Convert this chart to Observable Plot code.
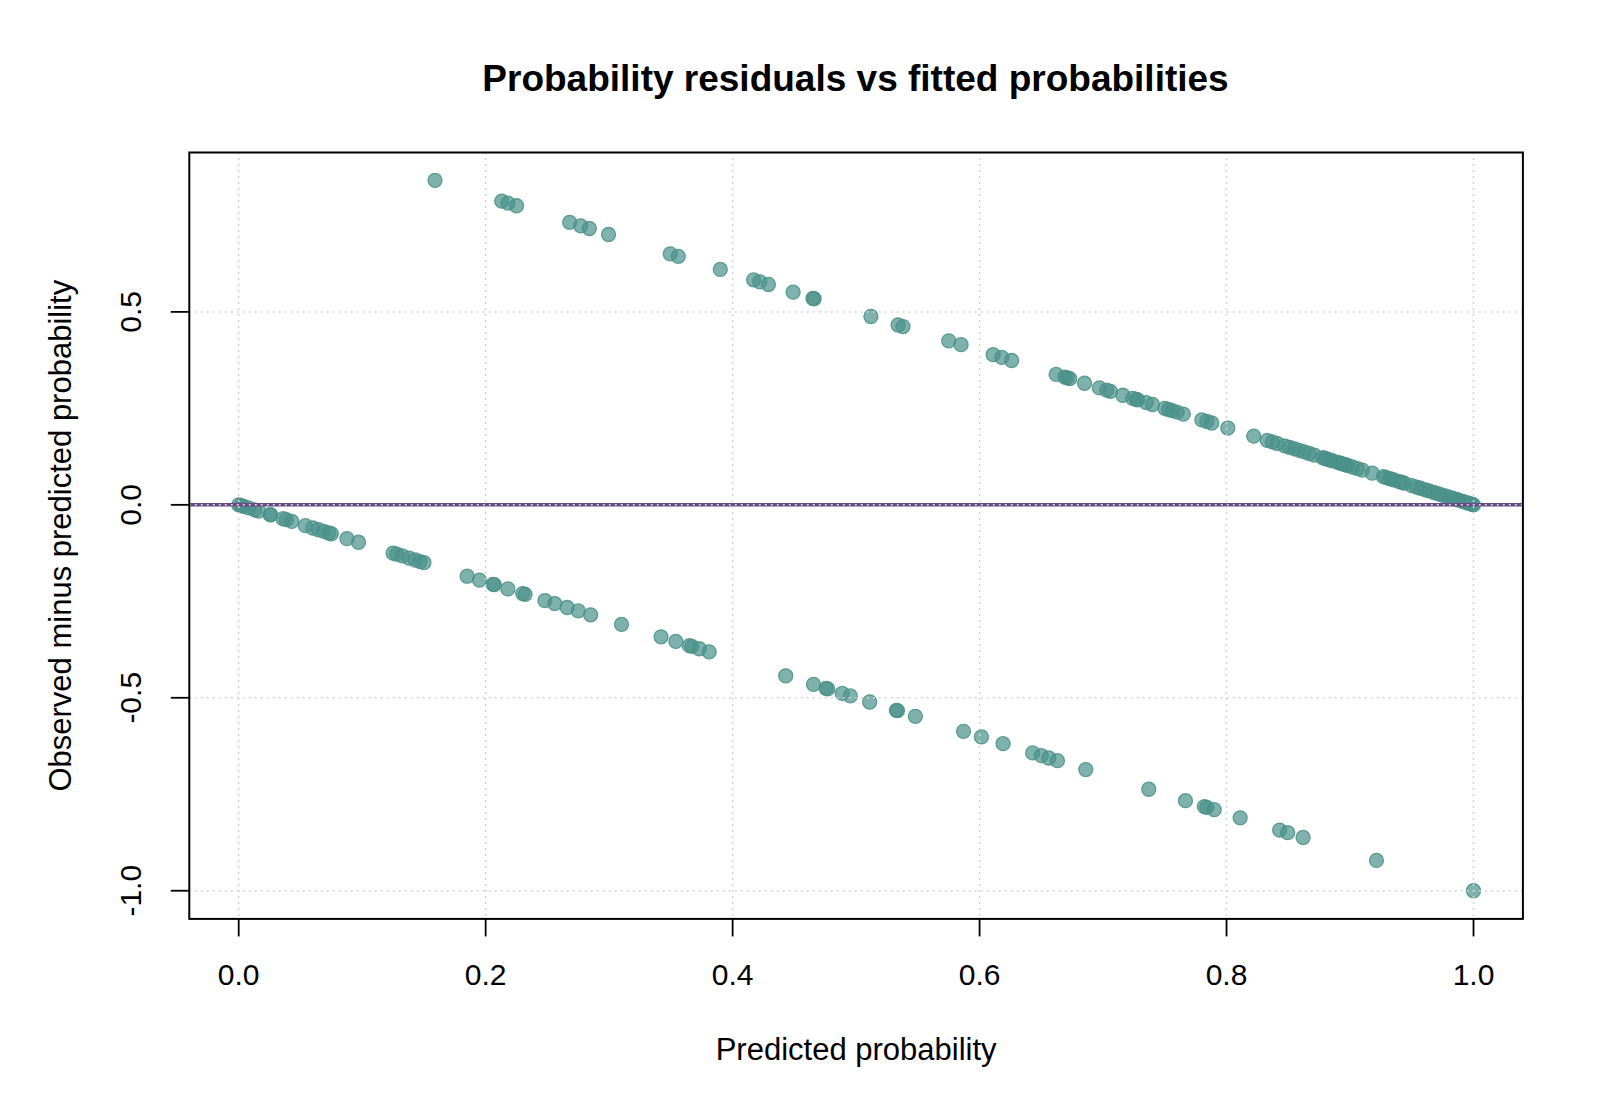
<!DOCTYPE html>
<html>
<head>
<meta charset="utf-8">
<script src="https://cdn.jsdelivr.net/npm/d3@7"></script>
<script src="https://cdn.jsdelivr.net/npm/@observablehq/plot@0.6"></script>
<style>
  body { margin: 0; background: #fff; font-family: "Liberation Sans", Arial, sans-serif; }
  #title {
    height: 120px; box-sizing: border-box;
    padding: 61px 78px 0 189px;
    text-align: center; font-weight: bold; font-size: 37px; line-height: 36px; color: #000;
  }
</style>
</head>
<body>
<div id="title">Probability residuals vs fitted probabilities</div>
<div id="chart"></div>
<script>
// Fitted probabilities for cases whose observed outcome was 1
const fittedObserved1 = [
  0.159, 0.213, 0.218, 0.225, 0.268, 0.277, 0.284, 0.2995, 0.3495, 0.356,
  0.390, 0.417, 0.422, 0.429, 0.449, 0.465, 0.466, 0.512, 0.534, 0.538,
  0.575, 0.585, 0.611, 0.618, 0.626, 0.662, 0.669, 0.671, 0.673, 0.685,
  0.697, 0.703, 0.706, 0.716, 0.724, 0.727, 0.728, 0.735, 0.740, 0.750,
  0.753, 0.756, 0.760, 0.765, 0.780, 0.784, 0.788, 0.801, 0.822, 0.833,
  0.837, 0.841, 0.847, 0.851, 0.855, 0.859, 0.863, 0.867, 0.871, 0.878,
  0.880, 0.882, 0.884, 0.886, 0.890, 0.892, 0.894, 0.896, 0.898, 0.902,
  0.906, 0.910, 0.918, 0.927, 0.929, 0.932, 0.934, 0.936, 0.940, 0.942,
  0.944, 0.950, 0.954, 0.957, 0.961, 0.964, 0.968, 0.971, 0.974, 0.977,
  0.980, 0.983, 0.986, 0.988, 0.991, 0.993, 0.995, 0.997, 0.999, 1.000
];

// Fitted probabilities for cases whose observed outcome was 0
const fittedObserved0 = [
  0.000, 0.002, 0.004, 0.008, 0.013, 0.016, 0.0255, 0.026, 0.036, 0.0385,
  0.043, 0.054, 0.060, 0.0646, 0.069, 0.073, 0.075, 0.0877, 0.097, 0.125,
  0.128, 0.1325, 0.138, 0.143, 0.147, 0.150, 0.185, 0.195, 0.206, 0.207,
  0.218, 0.230, 0.232, 0.248, 0.256, 0.266, 0.275, 0.285, 0.310, 0.342,
  0.354, 0.365, 0.367, 0.373, 0.381, 0.443, 0.4655, 0.4756, 0.477, 0.4887,
  0.4953, 0.511, 0.5326, 0.5335, 0.548, 0.587, 0.6015, 0.619, 0.643, 0.650,
  0.656, 0.663, 0.686, 0.737, 0.7667, 0.782, 0.784, 0.790, 0.811, 0.843,
  0.8495, 0.862, 0.9214, 1.000
];

const xTicks = [0, 0.2, 0.4, 0.6, 0.8, 1.0];
const yTicks = [-1.0, -0.5, 0.0, 0.5];
const xTitle = "Predicted probability";
const yTitle = "Observed minus predicted probability";

// residual = observed outcome minus fitted probability
const rows = [
  ...fittedObserved1.map(p => ({fitted: p, observed: 1})),
  ...fittedObserved0.map(p => ({fitted: p, observed: 0}))
].map(d => ({...d, residual: d.observed - d.fitted}));

const fmt = d => d.toFixed(1);
const gridStyle = {stroke: "#d3d3d3", strokeOpacity: 1, strokeWidth: 1.5, strokeDasharray: "2,4"};

const chart = Plot.plot({
  width: 1600,
  height: 988,
  marginLeft: 188.8,
  marginRight: 77.6,
  marginTop: 32,
  marginBottom: 189.6,
  style: {fontFamily: "'Liberation Sans', Arial, sans-serif", fontSize: "30px", color: "#000", background: "#fff"},
  x: {domain: [-0.04, 1.04]},
  y: {domain: [-1.073, 0.913]},
  marks: [
    Plot.dot(rows, {
      x: "fitted", y: "residual", r: 7,
      fill: "#4a918a", fillOpacity: 0.7,
      stroke: "#4a918a", strokeOpacity: 0.85, strokeWidth: 1.3
    }),
    Plot.ruleY([0], {stroke: "#674a85", strokeWidth: 3.5}),
    Plot.gridX(xTicks, gridStyle),
    Plot.gridY(yTicks, gridStyle),
    Plot.frame({stroke: "#000", strokeWidth: 2}),
    Plot.axisX(xTicks, {
      tickSize: 18, tickPadding: 27, tickFormat: fmt, strokeWidth: 1.8, label: null
    }),
    Plot.axisY(yTicks, {
      tickSize: 18, tickPadding: 30, tickRotate: -90, tickFormat: fmt, strokeWidth: 1.8, label: null
    }),
    // axis titles
    Plot.text([xTitle], {frameAnchor: "bottom", dy: 141, lineAnchor: "bottom", fontSize: 31}),
    Plot.text([yTitle], {frameAnchor: "left", dx: -128, rotate: -90, textAnchor: "middle", lineAnchor: "middle", fontSize: 31})
  ]
});

document.getElementById("chart").appendChild(chart);
</script>
</body>
</html>
